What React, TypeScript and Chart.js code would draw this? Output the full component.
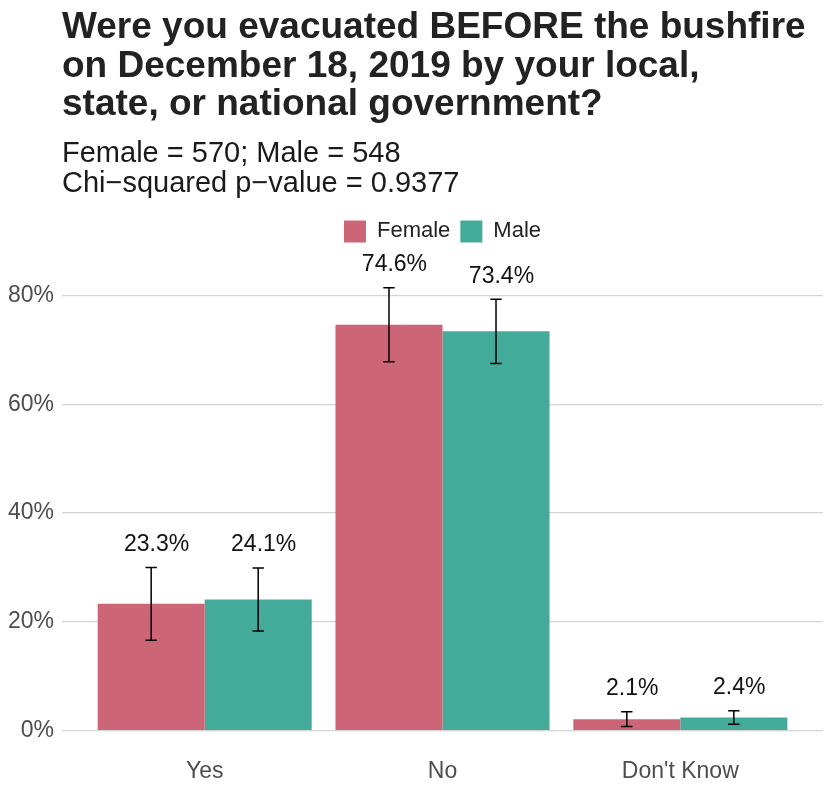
import React, { useEffect, useRef } from "react";
import { Chart, registerables } from "chart.js";

Chart.register(...registerables);

const categories = ["Yes", "No", "Don't Know"];
const seriesNames = ["Female", "Male"];
const femaleValues = [23.3, 74.6, 2.1];
const maleValues = [24.1, 73.4, 2.4];
const femaleLow = [16.6, 67.8, 0.75];
const femaleHigh = [30.0, 81.4, 3.45];
const maleLow = [18.3, 67.5, 1.15];
const maleHigh = [29.9, 79.3, 3.65];
const yTicks = [0, 20, 40, 60, 80];

const titleLines = [
  "Were you evacuated BEFORE the bushfire",
  "on December 18, 2019 by your local,",
  "state, or national government?",
];
const subtitleLines = ["Female = 570; Male = 548", "Chi\u2212squared p\u2212value = 0.9377"];

const FEMALE_COLOR = "#CC6677";
const MALE_COLOR = "#44AA99";
const FONT = "'Liberation Sans', Arial, Helvetica, sans-serif";

const lows = [femaleLow, maleLow];
const highs = [femaleHigh, maleHigh];
const values = [femaleValues, maleValues];

const panelAlignPlugin = {
  id: "panelAlign",
  afterLayout(chart: any) {
    const area = chart.chartArea;
    chart.boxes.forEach((b: any) => {
      if (b.position !== "top") return;
      if (b === chart.legend) {
        b.left = area.left;
        b.right = area.right;
      } else {
        b.left = area.left;
        b.right = chart.width;
      }
      b.width = b.right - b.left;
    });
  },
};

const errorBarPlugin = {
  id: "errorBars",
  afterDatasetsDraw(chart: any) {
    const ctx = chart.ctx;
    const xs = chart.scales.x;
    const ys = chart.scales.y;
    const capHalf = Math.abs(xs.getPixelForValue(0.024) - xs.getPixelForValue(0));
    const labelNudge = Math.abs(xs.getPixelForValue(0.023) - xs.getPixelForValue(0));
    ctx.save();
    chart.data.datasets.forEach((_ds: any, di: number) => {
      const meta = chart.getDatasetMeta(di);
      meta.data.forEach((bar: any, i: number) => {
        const cx = bar.x;
        const yl = ys.getPixelForValue(lows[di][i]);
        const yh = ys.getPixelForValue(highs[di][i]);
        ctx.strokeStyle = "#000000";
        ctx.lineWidth = 1.5;
        ctx.beginPath();
        ctx.moveTo(cx, yl);
        ctx.lineTo(cx, yh);
        ctx.moveTo(cx - capHalf, yl);
        ctx.lineTo(cx + capHalf, yl);
        ctx.moveTo(cx - capHalf, yh);
        ctx.lineTo(cx + capHalf, yh);
        ctx.stroke();
        ctx.fillStyle = "#111111";
        ctx.font = `23px ${FONT}`;
        ctx.textAlign = "center";
        ctx.textBaseline = "alphabetic";
        ctx.fillText(values[di][i].toFixed(1) + "%", cx + labelNudge, yh - 16.5);
      });
    });
    ctx.restore();
  },
};

export default function App() {
  const canvasRef = useRef<HTMLCanvasElement | null>(null);

  useEffect(() => {
    const canvas = canvasRef.current;
    if (!canvas) return;
    Chart.defaults.font.family = FONT;
    const chart = new Chart(canvas, {
      type: "bar",
      data: {
        datasets: [
          {
            label: seriesNames[0],
            data: categories.map((_, i) => ({ x: i, y: femaleValues[i] })),
            backgroundColor: FEMALE_COLOR,
            borderWidth: 0,
          },
          {
            label: seriesNames[1],
            data: categories.map((_, i) => ({ x: i, y: maleValues[i] })),
            backgroundColor: MALE_COLOR,
            borderWidth: 0,
          },
        ],
      },
      options: {
        responsive: false,
        animation: false,
        devicePixelRatio: 1,
        layout: { padding: { left: 0, right: 7, top: 0, bottom: 14 } },
        datasets: { bar: { categoryPercentage: 0.9, barPercentage: 1.0 } },
        scales: {
          x: {
            type: "linear",
            min: -0.6,
            max: 2.6,
            offset: false,
            afterBuildTicks: (scale: any) => {
              scale.ticks = categories.map((_, i) => ({ value: i }));
            },
            ticks: {
              autoSkip: false,
              maxRotation: 0,
              padding: 6,
              color: "#4D4D4D",
              font: { size: 23 },
              callback: (v: any) => categories[Math.round(Number(v))] ?? "",
            },
            grid: { display: false, drawTicks: false },
            border: { display: false },
          },
          y: {
            type: "linear",
            min: -3.82,
            max: 87.9,
            afterBuildTicks: (scale: any) => {
              scale.ticks = yTicks.map((v) => ({ value: v }));
            },
            afterFit: (scale: any) => {
              scale.width = 62;
            },
            ticks: {
              padding: 8,
              color: "#4D4D4D",
              font: { size: 23 },
              callback: (v: any) => `${v}%`,
            },
            grid: { color: "#D4D4D4", lineWidth: 1.3, drawTicks: false },
            border: { display: false },
          },
        },
        plugins: {
          title: {
            display: true,
            text: titleLines,
            align: "start",
            color: "#222222",
            font: { size: 37, weight: "bold", lineHeight: 1.04 },
            padding: { top: 9, bottom: 15 },
          },
          subtitle: {
            display: true,
            text: subtitleLines,
            align: "start",
            color: "#1A1A1A",
            font: { size: 29, lineHeight: 1.034 },
            padding: { top: 0, bottom: 11 },
          },
          legend: {
            display: true,
            position: "top",
            align: "center",
            labels: {
              boxWidth: 22,
              boxHeight: 22,
              padding: 10,
              color: "#222222",
              font: { size: 22 },
            },
          },
          tooltip: { enabled: false },
        },
      },
      plugins: [panelAlignPlugin, errorBarPlugin],
    } as any);
    return () => chart.destroy();
  }, []);

  return (
    <div style={{ position: "absolute", left: 0, top: 0, width: 830, height: 805, background: "#ffffff" }}>
      <canvas ref={canvasRef} width={830} height={805} style={{ width: 830, height: 805, display: "block" }} />
    </div>
  );
}
